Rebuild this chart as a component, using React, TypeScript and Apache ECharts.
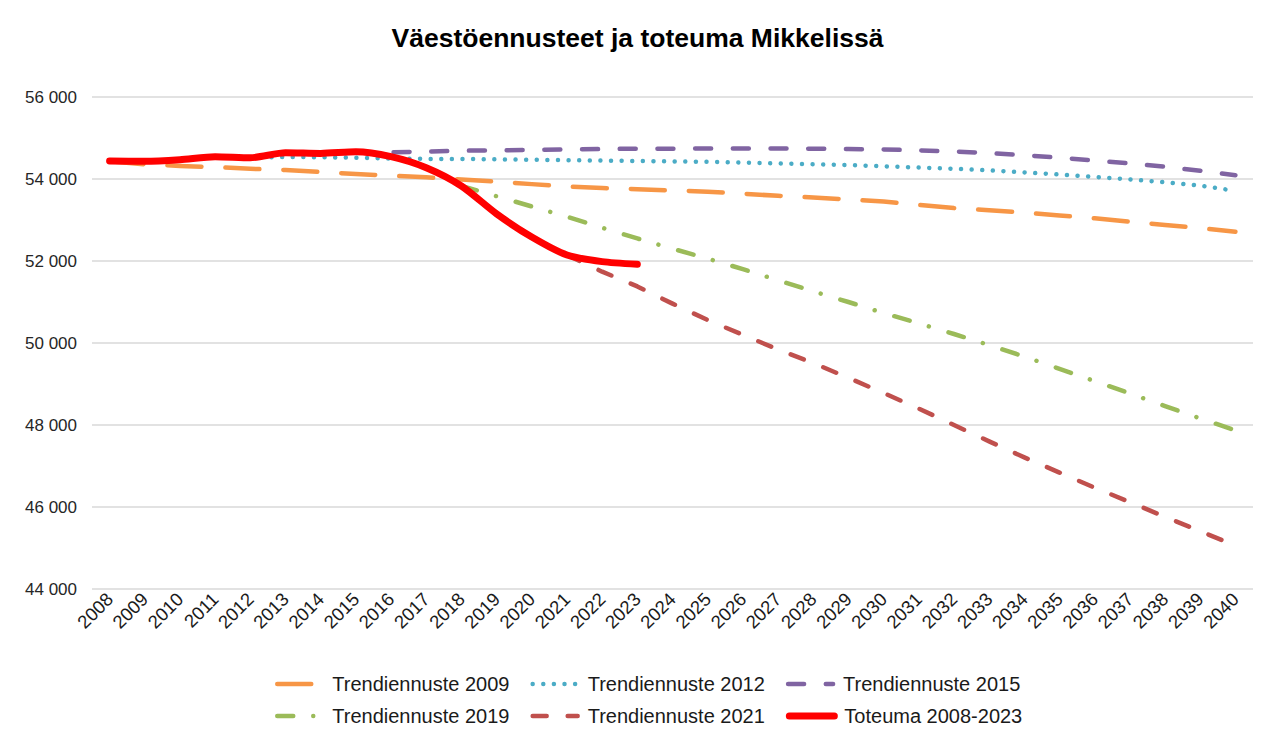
import React, { useEffect, useRef } from "react";
import * as echarts from "echarts";

const years = [
  "2008", "2009", "2010", "2011", "2012", "2013", "2014", "2015", "2016", "2017", "2018",
  "2019", "2020", "2021", "2022", "2023", "2024", "2025", "2026", "2027", "2028", "2029",
  "2030", "2031", "2032", "2033", "2034", "2035", "2036", "2037", "2038", "2039", "2040",
];

const trend2009 = [
  54430, 54360, 54320, 54290, 54250, 54220, 54170, 54120, 54080, 54040, 53990,
  53935, 53875, 53815, 53780, 53750, 53720, 53690, 53640, 53590, 53550, 53500,
  53450, 53370, 53290, 53240, 53180, 53110, 53040, 52960, 52880, 52800, 52715,
];

const trend2012 = [
  null, null, null, null, 54520, 54540, 54530, 54520, 54500, 54490, 54490,
  54480, 54470, 54460, 54450, 54440, 54430, 54420, 54400, 54380, 54360, 54340,
  54310, 54280, 54250, 54210, 54160, 54110, 54050, 53990, 53920, 53840, 53710,
];

const trend2015 = [
  null, null, null, null, null, null, null, 54660, 54650, 54670, 54690,
  54700, 54710, 54720, 54730, 54740, 54740, 54745, 54745, 54745, 54740, 54730,
  54720, 54700, 54670, 54630, 54580, 54520, 54450, 54380, 54300, 54200, 54090,
];

const trend2019 = [
  null, null, null, null, null, null, null, null, null, null, 53830,
  53580, 53330, 53080, 52810, 52550, 52300, 52060, 51800, 51530, 51260, 51000,
  50730, 50480, 50220, 49950, 49670, 49370, 49070, 48770, 48460, 48160, 47870,
];

const trend2021 = [
  null, null, null, null, null, null, null, null, null, null, null,
  null, null, 52150, 51740, 51380, 50960, 50560, 50200, 49840, 49510, 49150,
  48780, 48400, 48000, 47600, 47210, 46840, 46470, 46120, 45760, 45410, 45060,
];

const actual = [
  54440, 54430, 54470, 54545, 54520, 54640, 54625, 54665, 54545, 54275, 53830,
  53150, 52585, 52146, 51985, 51920, null, null, null, null, null, null,
  null, null, null, null, null, null, null, null, null, null, null,
];

const seriesNames = [
  "Trendiennuste 2009",
  "Trendiennuste 2012",
  "Trendiennuste 2015",
  "Trendiennuste 2019",
  "Trendiennuste 2021",
  "Toteuma 2008-2023",
];

const seriesColors = ["#F79646", "#4BACC6", "#8064A2", "#9BBB59", "#C0504D", "#FF0000"];
const seriesWidths = [4.5, 4.5, 4.5, 4.5, 4.5, 7];
const seriesDashes: any[] = [[34, 24], [0.01, 10.6], [16, 21.7], [16, 20, 0.01, 20.5], [14, 21], "solid"];

const yMin = 44000;
const yMax = 56000;
const yStep = 2000;

const fmt = (v: number) => {
  const th = Math.floor(v / 1000);
  const rest = String(v % 1000).padStart(3, "0");
  return `${th} ${rest}`;
};

export default function App() {
  const ref = useRef<HTMLDivElement>(null);

  useEffect(() => {
    if (!ref.current) return;
    const chart = echarts.init(ref.current, null, { renderer: "svg" });
    const font = "'Liberation Sans', Arial, sans-serif";
    const datas = [trend2009, trend2012, trend2015, trend2019, trend2021, actual];

    const legendItem = (i: number) => ({
      name: seriesNames[i],
      itemStyle: { opacity: 0 },
      lineStyle: {
        color: seriesColors[i],
        width: seriesWidths[i],
        type: seriesDashes[i],
        cap: "round",
        opacity: 1,
      },
    });

    const legendBase = {
      left: 270,
      itemWidth: 45,
      itemHeight: 14,
      itemGap: 21,
      textStyle: { fontFamily: font, fontSize: 20, color: "#1a1a1a", padding: [0, 0, 0, 5] },
    };

    chart.setOption({
      animation: false,
      backgroundColor: "#ffffff",
      textStyle: { fontFamily: font },
      title: {
        text: "Väestöennusteet ja toteuma Mikkelissä",
        left: "center",
        top: 19,
        textStyle: { fontFamily: font, fontSize: 26.5, fontWeight: "bold", color: "#000000" },
      },
      legend: [
        { ...legendBase, top: 669, data: [0, 1, 2].map(legendItem) },
        { ...legendBase, top: 701, data: [3, 4, 5].map(legendItem) },
      ],
      grid: { left: 92, right: 22, top: 97, bottom: 156, containLabel: false },
      xAxis: {
        type: "category",
        data: years,
        boundaryGap: true,
        axisLine: { show: false },
        axisTick: { show: false },
        splitLine: { show: false },
        axisLabel: {
          rotate: 45,
          interval: 0,
          margin: 7,
          fontFamily: font,
          fontSize: 18.5,
          color: "#1a1a1a",
        },
      },
      yAxis: {
        type: "value",
        min: yMin,
        max: yMax,
        interval: yStep,
        axisLine: { show: false },
        axisTick: { show: false },
        splitLine: { show: true, lineStyle: { color: "#d9d9d9", width: 1.5 } },
        axisLabel: {
          margin: 15,
          fontFamily: font,
          fontSize: 17,
          color: "#262626",
          formatter: (v: number) => fmt(v),
        },
      },
      series: datas.map((d, i) => ({
        name: seriesNames[i],
        type: "line",
        data: d,
        symbol: "none",
        showSymbol: false,
        smooth: i === 5 ? 0.25 : false,
        z: i === 5 ? 10 : 2 + i,
        lineStyle: {
          color: seriesColors[i],
          width: seriesWidths[i],
          type: seriesDashes[i],
          cap: "round",
          join: "round",
        },
        itemStyle: { color: seriesColors[i] },
      })),
    });

    return () => chart.dispose();
  }, []);

  return (
    <div
      ref={ref}
      style={{ position: "fixed", left: 0, top: 0, width: 1275, height: 745, background: "#fff" }}
    />
  );
}
